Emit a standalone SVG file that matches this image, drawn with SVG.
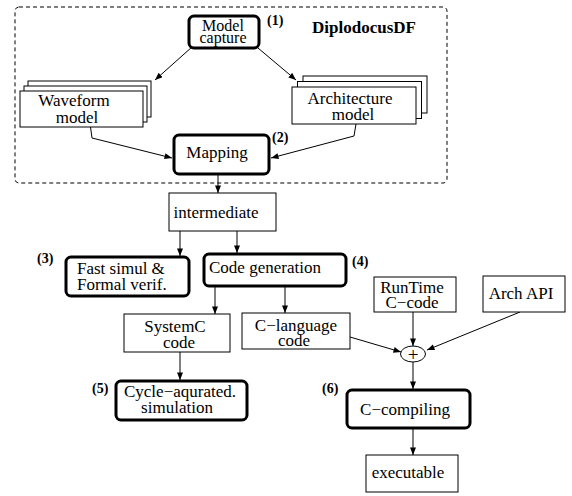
<svg xmlns="http://www.w3.org/2000/svg" width="572" height="496" viewBox="0 0 572 496" font-family="'Liberation Serif', 'DejaVu Serif', serif">
<defs>
<style>
text{font-family:'Liberation Serif','DejaVu Serif',serif;font-size:17px;fill:#000}
.c{text-anchor:middle}
.b{font-weight:bold;font-size:14px}
.t{font-size:16px}
.thin{fill:#fff;stroke:#000;stroke-width:1}
.thick{fill:#fff;stroke:#000;stroke-width:3}
.ln{fill:none;stroke:#000;stroke-width:1;marker-end:url(#ah)}
</style>
<marker id="ah" viewBox="0 0 10 8" refX="10" refY="4" markerWidth="8" markerHeight="6" markerUnits="userSpaceOnUse" orient="auto">
<path d="M0,0 L10,4 L0,8 z" fill="#000"/>
</marker>
</defs>
<rect width="572" height="496" fill="#fff"/>
<g id="diplodocus">
<rect x="15" y="7" width="432" height="176" rx="4" fill="none" stroke="#000" stroke-width="1" stroke-dasharray="4,3"/>
<text class="b" x="312" y="33" style="font-size:17px">DiplodocusDF</text>
</g>
<g id="connectors">
<line class="ln" x1="192" y1="47" x2="155" y2="80"/>
<line class="ln" x1="258" y1="48" x2="296" y2="80"/>
<polyline class="ln" points="90.5,127 92,138 172,158"/>
<polyline class="ln" points="356,124 354,136 271,158"/>
<line class="ln" x1="218" y1="174" x2="218" y2="193"/>
<line class="ln" x1="180" y1="231" x2="180" y2="256"/>
<line class="ln" x1="237" y1="231" x2="237" y2="253"/>
<line class="ln" x1="215" y1="286" x2="215" y2="314"/>
<line class="ln" x1="285" y1="286" x2="285" y2="313"/>
<line class="ln" x1="180" y1="352" x2="180" y2="380"/>
<line class="ln" x1="350" y1="337" x2="401" y2="352"/>
<line class="ln" x1="413" y1="312" x2="413" y2="346"/>
<line class="ln" x1="520" y1="312" x2="427" y2="350"/>
<line class="ln" x1="413" y1="362" x2="413" y2="389"/>
<line class="ln" x1="413" y1="428" x2="413" y2="455"/>
</g>
<g id="model-capture">
<rect class="thick" x="189" y="16" width="70" height="32" rx="5"/>
<text class="c t" x="223" y="31">Model</text>
<text class="c t" x="223" y="43">capture</text>
<text class="b" x="267" y="25">(1)</text>
</g>
<g id="waveform-model">
<rect class="thin" x="28" y="81" width="123" height="36"/>
<rect class="thin" x="24" y="86" width="123" height="36"/>
<rect class="thin" x="20" y="91" width="123" height="36"/>
<text class="c" x="74" y="106">Waveform</text>
<text class="c" x="77" y="123">model</text>
</g>
<g id="architecture-model">
<rect class="thin" x="303" y="76" width="124" height="37"/>
<rect class="thin" x="297.5" y="81.5" width="124" height="37"/>
<rect class="thin" x="292" y="87" width="124" height="37"/>
<text class="c" x="350" y="104">Architecture</text>
<text class="c" x="353" y="120">model</text>
</g>
<g id="mapping">
<rect class="thick" x="174" y="135" width="95" height="39" rx="5"/>
<text class="c" x="217" y="158">Mapping</text>
<text class="b" x="272" y="142">(2)</text>
</g>
<g id="intermediate">
<rect class="thin" x="169" y="193" width="107" height="38"/>
<text class="c" x="216" y="218">intermediate</text>
</g>
<g id="fast-simul">
<rect class="thick" x="66" y="257" width="123" height="39" rx="5"/>
<text x="77" y="274">Fast simul &amp;</text>
<text x="77" y="290">Formal verif.</text>
<text class="b" x="37" y="263">(3)</text>
</g>
<g id="code-generation">
<rect class="thick" x="204" y="254" width="142" height="32" rx="5"/>
<text x="209" y="273">Code generation</text>
<text class="b" x="352" y="266">(4)</text>
</g>
<g id="systemc-code">
<rect class="thin" x="124" y="314" width="106" height="38"/>
<text class="c" x="175" y="332">SystemC</text>
<text class="c" x="179" y="348">code</text>
</g>
<g id="c-language-code">
<rect class="thin" x="242" y="313" width="108" height="36"/>
<text class="c" x="296" y="331">C−language</text>
<text class="c" x="294" y="346">code</text>
</g>
<g id="cycle-simulation">
<rect class="thick" x="116" y="381" width="131" height="39" rx="5"/>
<text class="c" x="180" y="397">Cycle−aqurated.</text>
<text class="c" x="177" y="413">simulation</text>
<text class="b" x="92" y="393">(5)</text>
</g>
<g id="runtime-c-code">
<rect class="thin" x="374" y="277" width="82" height="35"/>
<text class="c" x="412" y="293">RunTime</text>
<text class="c" x="412" y="308">C−code</text>
</g>
<g id="arch-api">
<rect class="thin" x="483" y="276" width="82" height="36"/>
<text class="c" x="521" y="299">Arch API</text>
</g>
<g id="plus">
<ellipse cx="413" cy="354" rx="12.5" ry="8" fill="#fff" stroke="#000" stroke-width="1"/>
<text class="c" x="413" y="360.5" style="font-size:19px">+</text>
</g>
<g id="c-compiling">
<rect class="thick" x="347" y="390" width="123" height="38" rx="5"/>
<text class="c" x="405" y="415">C−compiling</text>
<text class="b" x="322" y="393">(6)</text>
</g>
<g id="executable">
<rect class="thin" x="366" y="455" width="92" height="37"/>
<text class="c" x="408" y="478">executable</text>
</g>
</svg>
